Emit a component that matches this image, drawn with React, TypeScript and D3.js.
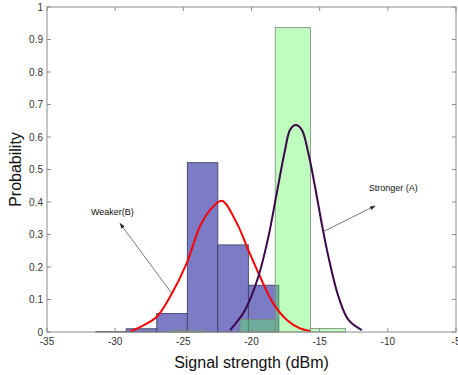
import * as d3 from 'd3'
import { useEffect, useRef } from 'react'

// weaker (B) histogram: bin edges in dBm and bar heights
const weakEdges = [-31.43, -29.19, -26.95, -24.71, -22.47, -20.23, -17.99]
const weakProb = [0.001, 0.01, 0.057, 0.521, 0.268, 0.144]

// stronger (A) histogram
const strongEdges = [-26.0, -23.42, -20.84, -18.26, -15.68, -13.1]
const strongProb = [0.004, 0, 0.039, 0.937, 0.011]

// fitted curves
const weakCurveX = [-28.91, -28.18, -26.95, -25.98, -24.75, -23.77, -23.04, -22.18, -21.08, -20.23, -19.37, -18.4, -17.41, -16.44, -15.7]
const weakCurveY = [0.001, 0.015, 0.047, 0.108, 0.212, 0.326, 0.375, 0.404, 0.335, 0.252, 0.17, 0.088, 0.037, 0.011, 0.003]
const strongCurveX = [-21.57, -20.47, -19.5, -18.76, -18.15, -17.54, -17.17, -16.75, -16.31, -15.83, -15.34, -14.85, -14.36, -13.63, -12.89, -11.91]
const strongCurveY = [0.006, 0.068, 0.17, 0.293, 0.427, 0.56, 0.622, 0.637, 0.622, 0.55, 0.447, 0.334, 0.232, 0.11, 0.037, 0.006]

const xTicks = [-35, -30, -25, -20, -15, -10, -5]
const yTicks = [0, 0.1, 0.2, 0.3, 0.4, 0.5, 0.6, 0.7, 0.8, 0.9, 1]

const notes = [
  { text: 'Weaker(B)', tx: -30.2, ty: 0.369, from: [-25.85, 0.119], to: [-29.64, 0.334] },
  { text: 'Stronger (A)', tx: -9.6, ty: 0.443, from: [-14.73, 0.309], to: [-10.94, 0.388] },
]

const App = () => {
  const svgRef = useRef(null)
  const width = 458
  const height = 375
  const marginLeft = 47
  const marginRight = 2
  const marginTop = 7
  const marginBottom = 43

  useEffect(() => {
    const x = d3.scaleLinear([-35, -5], [marginLeft, width - marginRight])
    const y = d3.scaleLinear([0, 1], [height - marginBottom, marginTop])

    const svg = d3.create('svg')
      .attr('width', width)
      .attr('height', height)
      .attr('viewBox', [0, 0, width, height])
      .attr('style', 'position:absolute;left:0;top:0;background:#fff')
      .attr('font-family', 'Liberation Sans, Arial, sans-serif')

    const bars = (edges, probs, fill, stroke, opacity) => {
      svg.append('g')
        .selectAll('rect')
        .data(probs)
        .join('rect')
        .attr('x', (d, i) => x(edges[i]))
        .attr('width', (d, i) => x(edges[i + 1]) - x(edges[i]))
        .attr('y', d => y(d))
        .attr('height', d => y(0) - y(d))
        .attr('fill', fill)
        .attr('fill-opacity', opacity)
        .attr('stroke', stroke)
        .attr('stroke-width', 0.8)
    }
    bars(weakEdges, weakProb, '#7b7bc6', '#3a3a5a', 1)
    bars(strongEdges, strongProb, '#5afa5a', '#7a8a7a', 0.39)

    const line = d3.line().curve(d3.curveCatmullRom)
      .x(d => x(d[0]))
      .y(d => y(d[1]))
    svg.append('path')
      .attr('fill', 'none')
      .attr('stroke', '#ff0000')
      .attr('stroke-width', 2)
      .attr('d', line(d3.zip(weakCurveX, weakCurveY)))
    svg.append('path')
      .attr('fill', 'none')
      .attr('stroke', '#3a0848')
      .attr('stroke-width', 2)
      .attr('d', line(d3.zip(strongCurveX, strongCurveY)))

    // axes box
    const x0 = x(-35), x1 = x(-5), y0 = y(0), y1 = y(1)
    const axisColor = '#8c8c8c'
    svg.append('rect')
      .attr('x', x0).attr('y', y1)
      .attr('width', x1 - x0).attr('height', y0 - y1)
      .attr('fill', 'none').attr('stroke', axisColor).attr('stroke-width', 1)

    const tickLen = 4
    const g = svg.append('g').attr('stroke', axisColor).attr('stroke-width', 1)
    xTicks.forEach(t => {
      g.append('line').attr('x1', x(t)).attr('x2', x(t)).attr('y1', y0).attr('y2', y0 - tickLen)
      g.append('line').attr('x1', x(t)).attr('x2', x(t)).attr('y1', y1).attr('y2', y1 + tickLen)
    })
    yTicks.forEach(t => {
      g.append('line').attr('x1', x0).attr('x2', x0 + tickLen).attr('y1', y(t)).attr('y2', y(t))
      g.append('line').attr('x1', x1).attr('x2', x1 - tickLen).attr('y1', y(t)).attr('y2', y(t))
    })

    svg.append('g')
      .selectAll('text')
      .data(xTicks)
      .join('text')
      .attr('x', d => x(d))
      .attr('y', y0 + 13)
      .attr('text-anchor', 'middle')
      .attr('font-size', 10)
      .attr('fill', '#333')
      .text(d => d)
    svg.append('g')
      .selectAll('text')
      .data(yTicks)
      .join('text')
      .attr('x', x0 - 4)
      .attr('y', d => y(d) + 3.5)
      .attr('text-anchor', 'end')
      .attr('font-size', 10)
      .attr('fill', '#333')
      .text(d => d)

    svg.append('text')
      .attr('x', (x0 + x1) / 2)
      .attr('y', 368)
      .attr('text-anchor', 'middle')
      .attr('font-size', 16)
      .attr('fill', '#111')
      .text('Signal strength (dBm)')
    svg.append('text')
      .attr('transform', `translate(21,${(y0 + y1) / 2}) rotate(-90)`)
      .attr('text-anchor', 'middle')
      .attr('font-size', 16)
      .attr('fill', '#111')
      .text('Probability')

    // annotations with arrows
    svg.append('defs').append('marker')
      .attr('id', 'ah')
      .attr('viewBox', '0 0 10 10')
      .attr('refX', 9).attr('refY', 5)
      .attr('markerWidth', 7).attr('markerHeight', 7)
      .attr('orient', 'auto')
      .append('path').attr('d', 'M0,1.5L10,5L0,8.5Z').attr('fill', '#222')
    notes.forEach(n => {
      svg.append('line')
        .attr('x1', x(n.from[0])).attr('y1', y(n.from[1]))
        .attr('x2', x(n.to[0])).attr('y2', y(n.to[1]))
        .attr('stroke', '#555').attr('stroke-width', 0.8)
        .attr('marker-end', 'url(#ah)')
      svg.append('text')
        .attr('x', x(n.tx)).attr('y', y(n.ty) + 3)
        .attr('text-anchor', 'middle')
        .attr('font-size', 9)
        .attr('fill', '#111')
        .text(n.text)
    })

    svgRef.current.replaceWith(svg.node())
  }, [])

  return <svg ref={svgRef} />
}

export default App
